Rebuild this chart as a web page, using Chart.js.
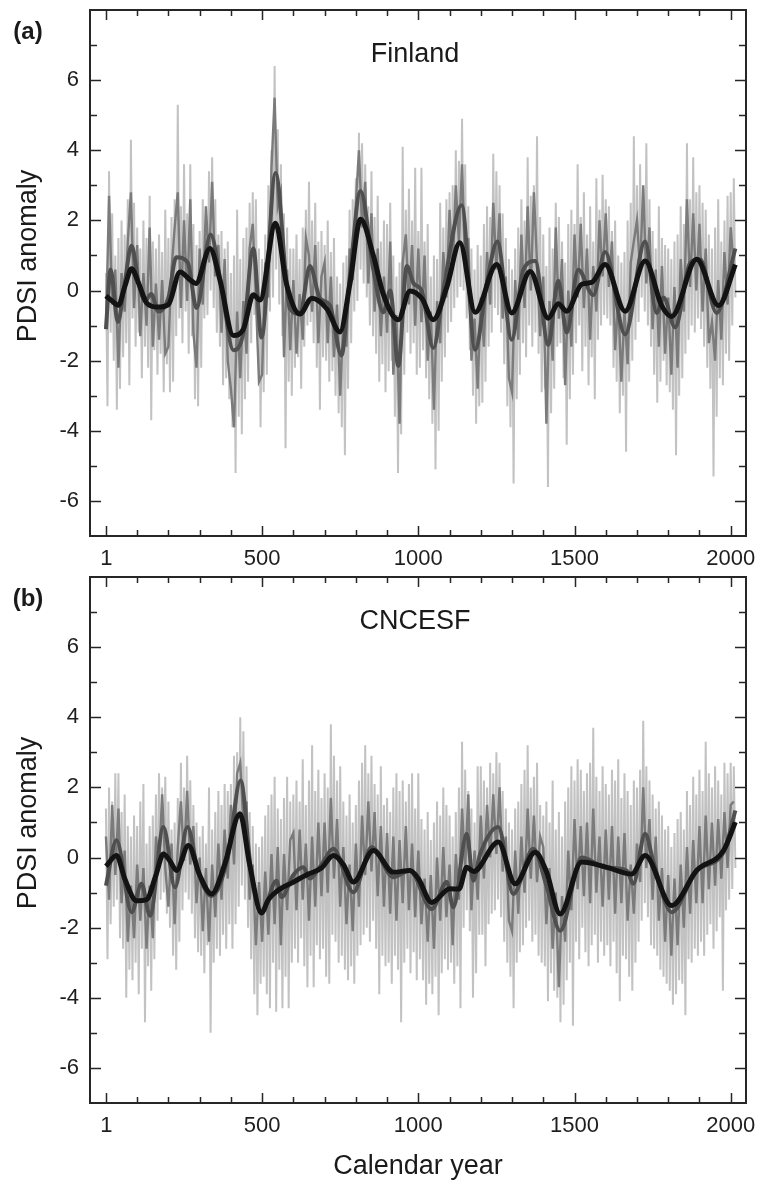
<!DOCTYPE html>
<html>
<head>
<meta charset="utf-8">
<script src="https://cdn.jsdelivr.net/npm/chart.js@4.4.1/dist/chart.umd.min.js"></script>
<style>
    html, body { margin: 0; padding: 0; background: #fff; }
    #wrap { position: relative; width: 759px; height: 1183px; }
    canvas { position: absolute; left: 0; }
    #chartA { top: 0; }
    #chartB { top: 567px; }
</style>
</head>
<body>
<div id="wrap">
    <canvas id="chartA" width="759" height="572" style="width:759px;height:572px"></canvas>
    <canvas id="chartB" width="759" height="616" style="width:759px;height:616px"></canvas>
</div>
<script>
// constants
const FONT = "'Liberation Sans', Arial, sans-serif"
const X_MIN = -51
const X_MAX = 2049
const Y_MIN = -7
const Y_MAX = 8
const STEP = 10 // spacing (years) of the decadal samples

// axis ticks
const xTickValues = [1, 500, 1000, 1500, 2000]
const xTickLabels = ['1', '500', '1000', '1500', '2000']
const yTickValues = [-6, -4, -2, 0, 2, 4, 6]
const yTickLabels = ['-6', '-4', '-2', '0', '2', '4', '6']

// ---- (a) Finland ----
// light grey annual band: top and bottom of the spikes in each decade
const finHi = [
    0.5, 3.4, 2.2, 1.0, 1.5, 2.0, 1.6, 2.6, 4.3, 2.5,
    1.8, 1.2, 2.0, 1.5, 2.7, 1.4, 1.2, 1.6, 1.1, 2.3,
    1.5, 2.1, 2.6, 5.3, 2.4, 3.6, 2.2, 3.6, 1.9, 1.3,
    1.7, 2.6, 2.2, 3.4, 3.8, 2.6, 1.6, 1.7, 1.2, 1.4,
    0.5, 1.0, 2.3, 0.9, 1.5, 1.8, 2.5, 2.8, 2.6, 1.2,
    0.9, 1.6, 3.0, 4.0, 6.4, 4.6, 3.6, 2.2, 1.8, 1.2,
    1.2, 1.6, 0.9, 1.8, 2.3, 3.1, 2.0, 2.5, 1.4, 1.7,
    1.3, 2.0, 1.1, 1.5, 0.4, 0.2, 0.8, 1.0, 2.3, 2.6,
    3.2, 4.5, 4.2, 3.6, 2.4, 3.4, 2.1, 2.7, 1.4, 2.0,
    1.9, 2.5, 1.0, 0.4, 0.8, 4.1, 2.3, 2.9, 2.0, 3.5,
    1.7, 3.5, 1.4, 1.9, 0.4, 1.0, 0.9, 2.5, 1.8, 2.6,
    2.8, 3.0, 4.0, 3.7, 4.9, 3.6, 2.4, 1.2, 0.6, 1.3,
    1.0, 1.9, 2.4, 2.1, 3.9, 3.4, 3.0, 2.2, 1.5, 0.9,
    0.6, 1.2, 1.8, 2.6, 2.0, 3.8, 2.7, 3.0, 4.4, 2.1,
    1.6, 0.7, 1.8, 1.2, 2.5, 2.1, 1.4, 0.8, 1.9, 2.3,
    1.9, 3.6, 2.1, 2.8, 1.6, 2.4, 1.4, 3.2, 2.3, 3.3,
    2.6, 2.4, 1.7, 2.0, 1.0, 0.8, 1.1, 2.0, 2.5, 4.4,
    3.0, 3.6, 2.9, 4.2, 2.6, 1.7, 1.2, 2.4, 1.5, 1.3,
    1.2, 0.9, 1.4, 1.6, 2.4, 1.9, 4.2, 2.6, 3.8, 2.8,
    3.0, 2.5, 2.3, 1.6, 1.2, 1.8, 2.6, 1.4, 2.0, 2.7, 2.8, 3.2
]
const finLo = [
    -3.3, -1.2, -2.0, -3.4, -2.8, -1.9, -1.5, -2.7, -0.8, -1.6,
    -1.2, -2.5, -1.6, -2.2, -3.7, -1.7, -2.4, -1.8, -2.9, -2.1,
    -2.9, -2.6, -1.3, -0.8, -1.5, -0.6, -1.8, -1.3, -3.1, -3.3,
    -2.2, -0.8, -0.7, 0.0, -0.5, -1.2, -1.6, -2.7, -2.5, -3.1,
    -3.9, -5.2, -3.6, -4.1, -3.1, -2.6, -1.5, -0.7, -1.4, -3.9,
    -2.9, -2.4, -0.6, -0.2, 0.6, -0.4, -1.3, -4.5, -2.6, -3.0,
    -2.2, -1.9, -2.8, -1.6, -1.0, -0.9, -1.5, -2.2, -3.4, -1.9,
    -2.0, -2.6, -2.3, -3.0, -3.5, -3.9, -4.7, -2.8, -1.5, -0.6,
    -0.3, 0.6, 0.2, -0.2, -1.0, -1.3, -1.8, -2.6, -2.1, -2.9,
    -2.3, -2.0, -3.6, -5.2, -4.1, -2.4, -1.2, -1.8, -1.5, -2.4,
    -2.2, -1.7, -2.5, -3.1, -3.8, -5.1, -4.0, -2.6, -1.9, -1.2,
    -0.9, -0.5, -0.2, 0.1, 0.0, -0.8, -1.7, -3.0, -3.8, -3.3,
    -3.2, -2.6, -1.6, -1.2, -0.5, -0.7, -1.2, -2.1, -3.3, -3.9,
    -5.5, -3.1, -2.4, -1.5, -1.9, -1.0, -1.6, -1.2, -1.8, -2.9,
    -2.8, -5.6, -3.5, -2.8, -1.6, -1.5, -2.5, -4.4, -3.1, -2.4,
    -1.5, -1.0, -2.3, -1.6, -2.7, -1.9, -3.1, -1.4, -1.0, -0.7,
    -0.8, -1.0, -2.2, -2.6, -3.5, -3.0, -4.6, -2.6, -2.0, -1.4,
    -0.9, -0.2, -0.6, -1.0, -1.6, -2.4, -3.2, -2.6, -2.0, -2.7,
    -2.9, -3.4, -4.7, -3.0, -2.5, -1.8, -1.4, -1.0, -1.2, -0.8,
    -1.1, -1.6, -2.2, -2.8, -5.3, -3.6, -2.5, -2.7, -1.8, -2.0, -1.0, -0.2
]
// mid grey short-term filter
const finMid = [
    -1.1, 2.7, -0.4, 0.6, -2.2, 0.5, -0.6, 1.4, 2.8, -0.5,
    1.3, -1.3, 0.5, -1.0, 1.8, -1.6, 0.2, -1.4, 0.3, -1.8,
    -1.6, 0.6, 1.8, 2.8, -0.5, 2.0, -0.3, 2.6, -1.2, -2.2,
    1.2, -0.4, 2.4, 0.8, 3.1, 0.4, 1.3, -1.2, 0.9, -2.0,
    -2.8, -3.9, -0.6, -2.5, -0.3, -1.8, 1.2, 1.9, -0.2, -2.6,
    -2.4, 0.8, -0.2, 3.5, 5.5, 2.4, 2.8, -1.9, 0.6, -1.7,
    0.3, -1.8, -0.1, -1.4, 1.5, 1.0, -0.6, 1.3, -1.5, 0.4,
    0.8, -1.5, 0.4, -1.9, -0.4, -3.0, -0.8, -1.6, 1.2, 0.3,
    2.5, 4.0, 1.8, 3.1, 0.2, 2.2, -0.6, 1.2, -1.3, 0.4,
    -1.2, 1.4, -2.4, -0.7, -3.8, 0.8, 1.6, -0.4, 1.3, -1.0,
    1.2, -0.9, 1.0, -2.0, -0.6, -3.4, -0.3, -1.5, 1.1, -0.2,
    2.3, 0.6, 3.0, 1.4, 3.6, 0.6, 1.5, -2.0, -0.8, -2.8,
    -0.2, -1.6, 1.1, -0.4, 2.5, 0.6, 2.2, -0.8, 0.4, -2.5,
    -2.9, 0.3, -1.4, 1.6, -0.5, 2.4, 0.0, 2.8, 0.8, -1.3,
    0.4, -3.8, -0.3, -2.0, 1.8, -0.8, 0.9, -2.7, 0.0, -1.6,
    1.6, -0.2, 1.9, -0.5, 1.2, -1.4, 0.7, -0.6, 2.0, 0.4,
    2.2, 0.1, 1.4, -1.7, -0.3, -2.6, -0.6, -2.1, 0.8, 1.4,
    2.0, 0.6, 3.0, 0.2, 1.8, -1.1, 0.6, -1.6, 0.7, -1.8,
    -0.2, -2.4, 0.1, -2.2, 0.9, -0.6, 2.6, 0.1, 2.2, 0.0,
    1.9, -0.6, 1.2, -1.5, -0.9, -2.0, 0.3, -1.4, 1.1, -0.4, 1.8, 0.6
]
// dark grey smoothing
const finSmoothYears = [0, 15, 38, 60, 82, 105, 125, 145, 168, 200, 225, 262, 290, 335, 370, 408, 440, 472, 498, 543,
    589, 621, 653, 685, 717, 754, 780, 815, 856, 888, 910, 936, 963, 985, 1011, 1048, 1080, 1139, 1182, 1219,
    1253, 1299, 1336, 1374, 1416, 1448, 1475, 1512, 1560, 1598, 1662, 1726, 1763, 1785, 1822, 1870, 1902, 1955, 2015]
const finSmooth = [-1.1, 0.6, -0.9, 0.2, 1.28, 0.2, -0.3, -0.1, -0.6, -0.2, 0.95, 0.8, -0.5, 1.6, 0.1, -1.7, -1.2, 1.2, -1.34, 3.35,
    -0.52, -0.67, 0.7, -0.22, -0.42, -1.85, 0.3, 2.84, 0.6, -0.62, 0.0, -2.15, 0.7, 0.2, -0.01, -1.64, 0.0, 2.43, -1.69, 0.19,
    1.4, -1.4, 0.59, 0.84, -1.55, 0.28, -1.2, 0.59, -0.13, 1.1, -1.25, 1.4, -0.64, -0.2, -1.05, 0.79, 0.89, -0.64, 1.2]
// black long-term smoothing
const finTrendYears = [0, 20, 40, 60, 82, 105, 130, 165, 200, 237, 270, 288, 333, 365, 408, 440, 472, 493, 543, 578,
    621, 659, 707, 749, 781, 815, 856, 888, 936, 973, 1011, 1048, 1091, 1133, 1182, 1251, 1299, 1358, 1416, 1448,
    1475, 1523, 1555, 1598, 1662, 1726, 1779, 1811, 1891, 1961, 2015]
const finTrend = [-0.15, -0.3, -0.42, 0.1, 0.62, 0.2, -0.35, -0.47, -0.4, 0.53, 0.3, 0.2, 1.2, 0.3, -1.28, -1.1, -0.12, -0.27, 1.92, 0.19,
    -0.67, -0.22, -0.52, -1.18, 0.19, 2.03, 1.0, -0.11, -0.83, -0.01, -0.22, -0.83, 0.09, 1.36, -0.62, 0.74, -0.64, 0.54, -0.79, -0.38,
    -0.59, 0.18, 0.23, 0.74, -0.59, 0.84, -0.43, -0.74, 0.89, -0.43, 0.74]

// ---- (b) CNCESF ----
const cnHi = [
    1.4, 2.0, 1.6, 2.4, 2.4, 1.3, 1.8, 0.9, 0.6, 1.2,
    0.9, 1.6, 2.1, 0.4, 0.9, 1.2, 1.8, 2.4, 2.0, 2.3,
    1.6, 0.8, 1.0, 1.7, 2.7, 2.0, 2.9, 2.2, 1.5, 1.0,
    0.6, 0.9, 0.4, 2.0, 0.8, 1.3, 1.9, 1.5, 2.1, 1.9,
    2.1, 2.9, 3.0, 4.0, 3.6, 2.6, 1.3, 0.9, 0.4, 0.3,
    0.6, 1.2, 1.5, 1.8, 2.3, 1.4, 1.1, 1.7, 2.3, 1.6,
    1.8, 2.2, 1.6, 2.8, 1.5, 2.2, 3.2, 1.9, 2.5, 1.7,
    2.4, 2.0, 3.8, 2.9, 2.2, 2.6, 1.6, 1.2, 1.8, 1.0,
    1.5, 2.2, 2.7, 3.2, 2.4, 2.9, 2.1, 1.8, 2.6, 1.5,
    1.7, 1.3, 2.0, 2.4, 1.9, 2.2, 1.6, 2.1, 2.4, 1.4,
    2.4, 1.1, 0.8, 1.3, 0.5, 1.0, 1.6, 1.2, 2.0, 1.5,
    1.2, 0.6, 1.3, 2.0, 3.3, 2.5, 1.9, 1.4, 1.0, 2.6,
    2.6, 2.2, 2.0, 2.7, 2.4, 3.0, 2.7, 1.9, 1.4, 1.0,
    0.8, 1.4, 1.6, 2.1, 2.5, 3.2, 2.0, 2.3, 2.7, 1.5,
    1.2, 1.6, 1.0, 2.2, 0.8, 1.3, 0.6, 1.6, 2.0, 2.6,
    2.2, 2.8, 2.5, 1.9, 2.4, 2.7, 3.7, 2.3, 1.9, 2.6,
    2.1, 1.8, 2.5, 2.2, 2.8, 1.7, 2.4, 1.9, 1.5, 2.2,
    2.0, 2.5, 3.9, 2.6, 2.2, 1.8, 1.4, 1.6, 1.2, 0.8,
    0.9, 0.3, 0.7, 1.1, 1.3, 0.8, 1.9, 1.5, 2.3, 1.8,
    2.5, 1.9, 3.3, 2.4, 2.0, 2.6, 2.2, 1.8, 2.7, 2.4, 2.7, 2.6
]
const cnLo = [
    -2.9, -1.9, -1.4, -1.2, -2.3, -2.6, -4.0, -3.2, -3.5, -3.0,
    -3.9, -2.6, -4.7, -3.1, -3.8, -2.9, -1.8, -1.2, -1.0, -1.6,
    -2.0, -2.8, -3.2, -2.4, -1.5, -1.0, -1.2, -1.6, -2.3, -2.7,
    -2.8, -3.3, -2.5, -5.0, -3.0, -2.6, -2.8, -2.2, -2.6, -1.9,
    -2.6, -1.9, -1.4, -0.8, -1.2, -2.0, -2.9, -3.9, -4.5, -3.6,
    -3.4, -3.9, -4.3, -3.0, -4.4, -3.2, -4.3, -3.4, -4.3, -3.0,
    -2.6, -3.0, -2.3, -3.1, -3.7, -2.8, -3.7, -2.5, -2.9, -2.6,
    -3.4, -3.6, -2.2, -2.4, -3.0, -2.8, -3.2, -3.5, -3.1, -3.6,
    -2.8, -2.5, -2.2, -2.0, -2.4, -1.8, -2.6, -3.9, -2.8, -3.1,
    -3.0, -3.6, -2.8, -3.2, -4.7, -3.0, -2.6, -3.3, -2.7, -3.5,
    -2.9, -3.5, -4.2, -3.6, -3.9, -3.4, -4.5, -3.3, -2.9, -3.2,
    -3.0, -3.6, -3.1, -4.3, -2.0, -1.5, -2.1, -4.0, -3.3, -2.2,
    -2.2, -3.1, -1.9, -1.6, -1.5, -1.2, -1.7, -2.4, -3.0, -3.4,
    -4.3, -3.0, -2.7, -2.5, -2.0, -1.8, -2.4, -2.2, -2.8, -3.0,
    -3.1, -4.1, -3.3, -3.8, -4.0, -4.7, -4.2, -3.5, -3.0, -4.8,
    -2.4, -2.9, -2.0, -2.7, -3.1, -2.5, -2.2, -3.0, -2.4, -2.8,
    -2.5, -3.1, -2.4, -3.3, -4.1, -2.8, -2.9, -3.4, -3.8, -3.0,
    -2.4, -1.8, -1.3, -1.7, -2.5, -2.6, -2.8, -3.2, -3.4, -3.6,
    -3.8, -4.2, -3.9, -3.5, -3.6, -4.5, -2.9, -3.0, -2.6, -2.8,
    -2.4, -2.8, -2.2, -1.9, -2.6, -2.1, -1.7, -3.8, -1.5, -1.2, -0.9, -0.3
]
const cnMid = [
    0.6, -1.2, 1.5, -0.5, 1.4, -1.3, 0.2, -2.4, -0.8, -2.3,
    -0.2, -1.8, -0.3, -2.6, -0.8, -2.3, 0.6, -0.2, 1.8, -0.3,
    -1.4, 0.4, -1.9, 0.3, 1.6, -0.1, 1.9, -0.2, 0.9, -1.3,
    0.0, -2.1, -0.3, -2.4, -0.2, -1.7, 0.4, -1.2, 0.8, -0.6,
    1.5, -0.2, 2.4, 2.7, 1.0, 1.6, -1.2, -0.2, -2.5, -0.7,
    -2.4, -0.4, -2.2, 0.1, -1.9, 0.3, -2.5, 0.1, -1.5, 0.5,
    0.7, -1.5, 0.8, -1.2, 0.4, -1.8, 0.6, -1.4, 1.0, -1.1,
    1.0, -1.0, 1.7, -0.6, 1.1, -1.4, 0.3, -1.9, -0.2, -2.1,
    0.4, -1.4, 1.2, -0.5, 1.6, -0.4, 1.3, -1.1, 0.9, -1.4,
    0.7, -1.6, 0.6, -1.8, 0.5, -1.3, 0.9, -1.5, 0.4, -1.7,
    0.2, -1.9, -0.6, -2.4, -0.5, -2.6, 0.0, -1.8, 0.3, -1.7,
    -0.2, -2.5, 0.1, -1.2, 1.4, -0.3, 1.8, -1.5, 0.2, -1.2,
    1.2, -0.6, 1.5, 0.0, 1.8, 0.1, 2.0, -0.4, 0.6, -1.8,
    -2.1, 0.2, -1.6, 0.6, -1.0, 1.4, -0.6, 1.2, -0.7, 0.6,
    0.3, -1.9, -0.3, -2.6, -1.0, -3.7, -1.1, -2.4, 0.2, -1.5,
    1.1, -0.9, 0.9, -1.1, 1.0, -1.3, 1.4, -1.0, 0.6, -1.4,
    0.8, -1.2, 0.9, -1.6, 0.6, -1.3, 0.7, -1.8, -0.2, -1.6,
    0.4, -0.7, 2.0, -0.3, 1.1, -1.2, 0.6, -1.8, -0.3, -2.4,
    -0.5, -2.8, -0.6, -2.5, -0.2, -2.0, 0.3, -1.6, 0.5, -1.3,
    0.9, -1.3, 1.2, -0.9, 1.0, -0.8, 1.1, -0.6, 1.3, -0.3, 1.5, 1.6
]
const cnSmoothYears = [0, 34, 82, 114, 141, 184, 221, 261, 295, 338, 390, 431, 465, 500, 546, 562, 600, 632, 653, 690,
    728, 792, 851, 920, 973, 1043, 1091, 1112, 1155, 1176, 1198, 1256, 1304, 1368, 1410, 1454, 1523, 1600, 1667, 1688,
    1726, 1752, 1811, 1891, 1977, 2015]
const cnSmooth = [-0.8, 0.49, -1.56, -0.75, -1.66, 0.87, -0.85, 0.87, -0.4, -1.1, 0.0, 2.2, -0.4, -1.55, -0.66, -1.13, -0.5, -0.28, -0.6, -0.2,
    0.25, -0.99, 0.29, -0.56, -0.37, -1.47, -0.7, -1.42, 0.68, -0.66, 0.1, 0.87, -1.04, 0.25, -0.8, -2.09, 0.0, -0.28, -0.37, -0.75,
    0.68, -0.1, -1.56, -0.37, 0.15, 1.34]
const cnTrendYears = [0, 34, 60, 98, 130, 160, 184, 205, 226, 264, 300, 338, 380, 429, 460, 498, 520, 546, 600, 643,
    690, 728, 760, 792, 856, 920, 973, 1000, 1043, 1101, 1130, 1155, 1177, 1256, 1310, 1374, 1410, 1454, 1523, 1603,
    1683, 1726, 1811, 1891, 1977, 2015]
const cnTrend = [-0.25, 0.06, -0.6, -1.23, -1.2, -0.5, 0.1, -0.1, -0.37, 0.34, -0.5, -1.04, -0.2, 1.25, -0.2, -1.58, -1.2, -0.97, -0.7, -0.49,
    -0.3, 0.06, -0.2, -0.7, 0.2, -0.42, -0.37, -0.6, -1.28, -0.89, -0.9, -0.28, -0.4, 0.44, -0.75, 0.15, -0.4, -1.61, -0.13, -0.28,
    -0.47, 0.06, -1.37, -0.37, 0.2, 1.01]

Chart.defaults.font.family = FONT
Chart.defaults.color = '#222'

// annual band: spike top at the decade, spike bottom half a step later
function spikes(hi, lo) {
    var pts = []
    for (var i = 0; i < hi.length; i++) {
        pts.push({x: i * STEP, y: hi[i]})
        pts.push({x: i * STEP + STEP / 2, y: lo[i]})
    }
    return pts
}

function decadal(vals) {
    return vals.map((v, i) => ({x: i * STEP, y: v}))
}

function pairs(years, vals) {
    return years.map((yr, i) => ({x: yr, y: vals[i]}))
}

// frame, inward ticks and panel texts
const panelDecor = {
    id: 'panelDecor',
    afterDatasetsDraw(chart, args, o) {
        const ctx = chart.ctx
        const a = chart.chartArea
        const xs = chart.scales.x
        const ys = chart.scales.y
        ctx.save()
        ctx.strokeStyle = '#262626'
        ctx.lineWidth = 1.5
        ctx.beginPath()
        for (var yr = 0; yr <= 2000; yr += 100) {
            var v = yr == 0 ? 1 : yr
            var px = Math.round(xs.getPixelForValue(v)) + 0.5
            var len = xTickValues.indexOf(v) >= 0 ? 10 : 6
            ctx.moveTo(px, a.bottom); ctx.lineTo(px, a.bottom - len)
            ctx.moveTo(px, a.top); ctx.lineTo(px, a.top + len)
        }
        for (var t = Y_MIN + 1; t < Y_MAX; t++) {
            var py = Math.round(ys.getPixelForValue(t)) + 0.5
            var tl = t % 2 == 0 ? 11 : 7
            ctx.moveTo(a.left, py); ctx.lineTo(a.left + tl, py)
            ctx.moveTo(a.right, py); ctx.lineTo(a.right - tl, py)
        }
        ctx.stroke()
        ctx.lineWidth = 2
        ctx.strokeRect(a.left, a.top, a.right - a.left, a.bottom - a.top)

        ctx.fillStyle = '#1a1a1a'
        ctx.textAlign = 'center'
        ctx.textBaseline = 'middle'
        ctx.font = 'bold 24px ' + FONT
        ctx.fillText(o.tag, 28, a.top + 22)
        ctx.font = '27px ' + FONT
        ctx.fillText(o.region, (a.left + a.right) / 2 - 3, a.top + 45)
        ctx.translate(29, (a.top + a.bottom) / 2 - 17)
        ctx.rotate(-Math.PI / 2)
        ctx.fillText('PDSI anomaly', 0, 0)
        ctx.restore()
    }
}

function makePanel(canvasId, p) {
    const config = {
        type: 'line',
        data: {
            datasets: [
                {data: pairs(p.trendYears, p.trend), borderColor: '#131313', borderWidth: 5, cubicInterpolationMode: 'monotone'},
                {data: pairs(p.smoothYears, p.smooth), borderColor: '#4f4f4f', borderWidth: 4, cubicInterpolationMode: 'monotone'},
                {data: decadal(p.mid), borderColor: '#7b7b7b', borderWidth: 2.4},
                {data: spikes(p.hi, p.lo), borderColor: '#c2c2c2', borderWidth: 2},
            ]
        },
        options: {
            responsive: false,
            animation: false,
            devicePixelRatio: 1,
            layout: {padding: {left: 0, right: 13, top: 10, bottom: 0}},
            elements: {point: {radius: 0}, line: {tension: 0, borderCapStyle: 'butt'}},
            plugins: {
                legend: {display: false},
                tooltip: {enabled: false},
                panelDecor: {tag: p.tag, region: p.region}
            },
            scales: {
                x: {
                    type: 'linear',
                    min: X_MIN,
                    max: X_MAX,
                    border: {display: false},
                    grid: {display: false, drawTicks: false},
                    ticks: {
                        autoSkip: false,
                        maxRotation: 0,
                        padding: 10,
                        font: {size: 22},
                        color: '#1e1e1e',
                        callback: function(value) {
                            var i = xTickValues.indexOf(value)
                            return i < 0 ? '' : xTickLabels[i]
                        }
                    },
                    title: {
                        display: p.showXTitle,
                        text: 'Calendar year',
                        font: {size: 27},
                        color: '#1a1a1a',
                        padding: {top: 5, bottom: 0}
                    },
                    afterBuildTicks: function(s) { s.ticks = xTickValues.map(v => ({value: v})) },
                    afterFit: function(s) { s.height = p.xAxisHeight; s.paddingLeft = 0; s.paddingRight = 0 }
                },
                y: {
                    min: Y_MIN,
                    max: Y_MAX,
                    border: {display: false},
                    grid: {display: false, drawTicks: false},
                    ticks: {
                        padding: 11,
                        font: {size: 22},
                        color: '#1e1e1e',
                        callback: function(value) {
                            var i = yTickValues.indexOf(value)
                            return i < 0 ? '' : yTickLabels[i]
                        }
                    },
                    afterBuildTicks: function(s) { s.ticks = yTickValues.map(v => ({value: v})) },
                    afterFit: function(s) { s.width = 90; s.paddingTop = 0; s.paddingBottom = 0 }
                }
            }
        },
        plugins: [panelDecor]
    }
    return new Chart(document.getElementById(canvasId), config)
}

makePanel('chartA', {
    tag: '(a)', region: 'Finland', showXTitle: false, xAxisHeight: 36,
    hi: finHi, lo: finLo, mid: finMid,
    smoothYears: finSmoothYears, smooth: finSmooth,
    trendYears: finTrendYears, trend: finTrend
})

makePanel('chartB', {
    tag: '(b)', region: 'CNCESF', showXTitle: true, xAxisHeight: 80,
    hi: cnHi, lo: cnLo, mid: cnMid,
    smoothYears: cnSmoothYears, smooth: cnSmooth,
    trendYears: cnTrendYears, trend: cnTrend
})
</script>
</body>
</html>
